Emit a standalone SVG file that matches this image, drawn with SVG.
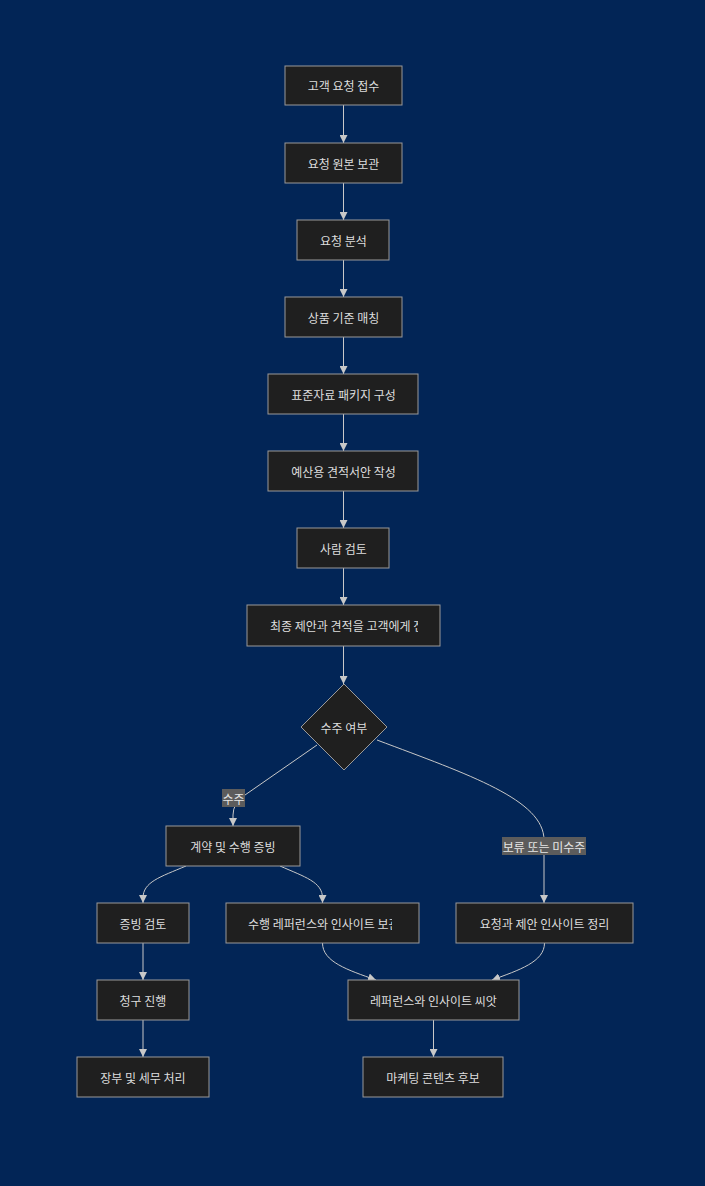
<svg xmlns="http://www.w3.org/2000/svg" width="705" height="1186" viewBox="0 0 705 1186">
<defs>
<style>
.bg{fill:#022556}
.node rect,.node polygon{fill:#1f1f1f;stroke:#9a9a9a;stroke-width:1}
.lbl{font-family:"Noto Sans CJK KR","Noto Sans",sans-serif;font-size:12px;fill:#dddddd;text-anchor:middle;dominant-baseline:central}
.lbl.start{text-anchor:start}
.edge{fill:none;stroke:#c8c8c8;stroke-width:1}
.elbl rect{fill:#5c5c5c}
.elbl text{font-family:"Noto Sans CJK KR","Noto Sans",sans-serif;font-size:12px;fill:#e6e6e6;text-anchor:middle;dominant-baseline:central}
</style>
<marker id="arr" viewBox="0 0 10 10" refX="10" refY="5" markerWidth="8" markerHeight="8" markerUnits="userSpaceOnUse" orient="auto">
<path d="M0,0 L10,5 L0,10 z" fill="#c8c8c8"/>
</marker>
<clipPath id="c8"><rect x="247" y="605" width="171" height="41"/></clipPath>
<clipPath id="c12"><rect x="226" y="903" width="166" height="40"/></clipPath>
</defs>
<rect class="bg" x="0" y="0" width="705" height="1186"/>
<g id="edges">
<path class="edge" d="M343.5,105 L343.5,143" marker-end="url(#arr)"/>
<path class="edge" d="M343.5,183 L343.5,220" marker-end="url(#arr)"/>
<path class="edge" d="M343.5,260 L343.5,297" marker-end="url(#arr)"/>
<path class="edge" d="M343.5,337 L343.5,374" marker-end="url(#arr)"/>
<path class="edge" d="M343.5,414 L343.5,451" marker-end="url(#arr)"/>
<path class="edge" d="M343.5,491 L343.5,528" marker-end="url(#arr)"/>
<path class="edge" d="M343.5,568 L343.5,605" marker-end="url(#arr)"/>
<path class="edge" d="M343.5,646 L343.5,684" marker-end="url(#arr)"/>
<path class="edge" d="M317,745 L245,795 Q233,803 233,815 L233,826" marker-end="url(#arr)"/>
<path class="edge" d="M377,740 C470,775 544,800 544,840 L544,903" marker-end="url(#arr)"/>
<path class="edge" d="M186,866 C160,877 143,882 143,898 L143,903" marker-end="url(#arr)"/>
<path class="edge" d="M280,866 C305,877 322.5,882 322.5,898 L322.5,903" marker-end="url(#arr)"/>
<path class="edge" d="M143,943 L143,980" marker-end="url(#arr)"/>
<path class="edge" d="M143,1020 L143,1057" marker-end="url(#arr)"/>
<path class="edge" d="M322.5,943 C322.5,962 348,970 376,980" marker-end="url(#arr)"/>
<path class="edge" d="M544.5,943 C544.5,962 519,970 492,980" marker-end="url(#arr)"/>
<path class="edge" d="M433.5,1020 L433.5,1057" marker-end="url(#arr)"/>
<g class="elbl"><rect x="222" y="789" width="23" height="18"/><text x="233.5" y="798">수주</text></g>
<g class="elbl"><rect x="502" y="837" width="84" height="18"/><text x="544" y="846">보류 또는 미수주</text></g>
</g>
<g id="n1" class="node"><rect x="285" y="66" width="117" height="39"/><text class="lbl" x="343.5" y="85.5">고객 요청 접수</text></g>
<g id="n2" class="node"><rect x="285" y="143" width="117" height="40"/><text class="lbl" x="343.5" y="163">요청 원본 보관</text></g>
<g id="n3" class="node"><rect x="297" y="220" width="92" height="40"/><text class="lbl" x="343.5" y="240">요청 분석</text></g>
<g id="n4" class="node"><rect x="285" y="297" width="117" height="40"/><text class="lbl" x="343.5" y="317">상품 기준 매칭</text></g>
<g id="n5" class="node"><rect x="268" y="374" width="150" height="40"/><text class="lbl" x="343.5" y="394">표준자료 패키지 구성</text></g>
<g id="n6" class="node"><rect x="268" y="451" width="150" height="40"/><text class="lbl" x="343.5" y="471">예산용 견적서안 작성</text></g>
<g id="n7" class="node"><rect x="297" y="528" width="92" height="40"/><text class="lbl" x="343.5" y="548">사람 검토</text></g>
<g id="n8" class="node"><rect x="247" y="605" width="193" height="41"/><text class="lbl start" x="270" y="625.5" clip-path="url(#c8)">최종 제안과 견적을 고객에게 전달</text></g>
<g id="n9" class="node"><polygon points="344,684 387,727 344,770 301,727"/><text class="lbl" x="344" y="727">수주 여부</text></g>
<g id="n10" class="node"><rect x="166" y="826" width="134" height="40"/><text class="lbl" x="233" y="846">계약 및 수행 증빙</text></g>
<g id="n11" class="node"><rect x="97" y="903" width="92" height="40"/><text class="lbl" x="143" y="923">증빙 검토</text></g>
<g id="n12" class="node"><rect x="226" y="903" width="193" height="40"/><text class="lbl start" x="248" y="923" clip-path="url(#c12)">수행 레퍼런스와 인사이트 보관</text></g>
<g id="n13" class="node"><rect x="456" y="903" width="177" height="40"/><text class="lbl" x="544.5" y="923">요청과 제안 인사이트 정리</text></g>
<g id="n14" class="node"><rect x="97" y="980" width="92" height="40"/><text class="lbl" x="143" y="1000">청구 진행</text></g>
<g id="n15" class="node"><rect x="348" y="980" width="171" height="40"/><text class="lbl" x="433.5" y="1000">레퍼런스와 인사이트 씨앗</text></g>
<g id="n16" class="node"><rect x="77" y="1057" width="132" height="40"/><text class="lbl" x="143" y="1077">장부 및 세무 처리</text></g>
<g id="n17" class="node"><rect x="363" y="1057" width="140" height="40"/><text class="lbl" x="433" y="1077">마케팅 콘텐츠 후보</text></g>
</svg>
